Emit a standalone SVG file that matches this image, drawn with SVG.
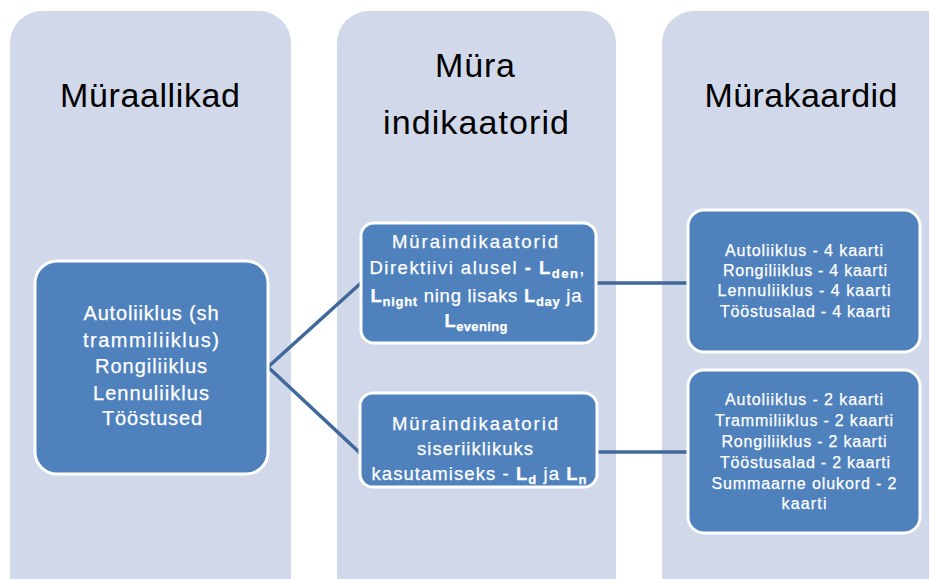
<svg xmlns="http://www.w3.org/2000/svg" width="929" height="579" viewBox="0 0 929 579">
<style>
.panel{fill:#D0D8E9}
.node{fill:#4F81BD;stroke:#FFFFFF;stroke-width:3}
.title{font-family:"Liberation Sans",Arial,sans-serif;font-size:34px;fill:#000;text-anchor:middle}
.t{font-family:"Liberation Sans",Arial,sans-serif;fill:#FFFFFF;text-anchor:middle;stroke:#FFFFFF;stroke-width:0.25}
.l{font-size:20px}
.m{font-size:18.5px}
.r{font-size:16px}
.b{font-weight:bold}
.sub{font-size:13px;font-weight:bold}
.conn{stroke:#41689A;stroke-width:3.5;fill:none;stroke-linecap:butt;stroke-linejoin:miter}
</style>
<rect width="929" height="579" fill="#FFFFFF"/>
<g id="panel-sources">
<rect class="panel" x="10" y="11" width="281" height="620" rx="32"/>
<text class="title" x="150" y="107" textLength="180">Müraallikad</text>
</g>
<g id="panel-indicators">
<rect class="panel" x="337" y="11" width="279" height="620" rx="32"/>
<text class="title" x="475" y="77" textLength="80">Müra</text>
<text class="title" x="476" y="134" textLength="186">indikaatorid</text>
</g>
<g id="panel-maps">
<rect class="panel" x="662" y="11" width="300" height="620" rx="32"/>
<text class="title" x="801" y="107" textLength="193">Mürakaardid</text>
</g>
<g id="connectors">
<polyline class="conn" points="361,283 268,367 360,453"/>
<line class="conn" x1="596" y1="283" x2="688" y2="283"/>
<line class="conn" x1="597" y1="452" x2="688" y2="452"/>
</g>
<g id="node-sources">
<rect class="node" x="35" y="261" width="233" height="213" rx="22"/>
<text class="t l" x="151" y="320" textLength="135">Autoliiklus (sh</text>
<text class="t l" x="151" y="347" textLength="136">trammiliiklus)</text>
<text class="t l" x="151" y="373" textLength="112">Rongiliiklus</text>
<text class="t l" x="151" y="400" textLength="116">Lennuliiklus</text>
<text class="t l" x="152" y="425" textLength="100">Tööstused</text>
</g>
<g id="node-directive">
<rect class="node" x="361" y="223" width="235" height="120" rx="13"/>
<text class="t m" x="475" y="248" textLength="166">Müraindikaatorid</text>
<text class="t m" x="477" y="274" textLength="215">Direktiivi alusel <tspan class="b">- L</tspan><tspan class="sub" dy="4">den</tspan><tspan dy="-4">,</tspan></text>
<text class="t m" x="476" y="302" textLength="211"><tspan class="b">L</tspan><tspan class="sub" dy="4">night</tspan><tspan dy="-4"> ning lisaks </tspan><tspan class="b">L</tspan><tspan class="sub" dy="4">day</tspan><tspan dy="-4"> ja</tspan></text>
<text class="t m" x="476" y="327" textLength="63"><tspan class="b">L</tspan><tspan class="sub" dy="4">evening</tspan></text>
</g>
<g id="node-national">
<rect class="node" x="360" y="393" width="237" height="94" rx="13"/>
<text class="t m" x="475" y="430" textLength="166">Müraindikaatorid</text>
<text class="t m" x="475" y="455" textLength="116">siseriiklikuks</text>
<text class="t m" x="479" y="480" textLength="215">kasutamiseks - <tspan class="b">L</tspan><tspan class="sub" dy="4">d</tspan><tspan dy="-4"> ja </tspan><tspan class="b">L</tspan><tspan class="sub" dy="4">n</tspan></text>
</g>
<g id="node-maps-directive">
<rect class="node" x="688" y="210" width="232" height="142" rx="16"/>
<text class="t r" x="804" y="256" textLength="158">Autoliiklus - 4 kaarti</text>
<text class="t r" x="805" y="276" textLength="164">Rongiliiklus - 4 kaarti</text>
<text class="t r" x="804" y="296" textLength="173">Lennuliiklus  - 4 kaarti</text>
<text class="t r" x="805" y="317" textLength="170">Tööstusalad - 4 kaarti</text>
</g>
<g id="node-maps-national">
<rect class="node" x="688" y="370" width="232" height="163" rx="16"/>
<text class="t r" x="804" y="405" textLength="158">Autoliiklus - 2 kaarti</text>
<text class="t r" x="804" y="426" textLength="178">Trammiliiklus - 2 kaarti</text>
<text class="t r" x="804" y="447" textLength="165">Rongiliiklus - 2 kaarti</text>
<text class="t r" x="805" y="468" textLength="170">Tööstusalad - 2 kaarti</text>
<text class="t r" x="804" y="489" textLength="185">Summaarne olukord - 2</text>
<text class="t r" x="804" y="509" textLength="45">kaarti</text>
</g>
</svg>
